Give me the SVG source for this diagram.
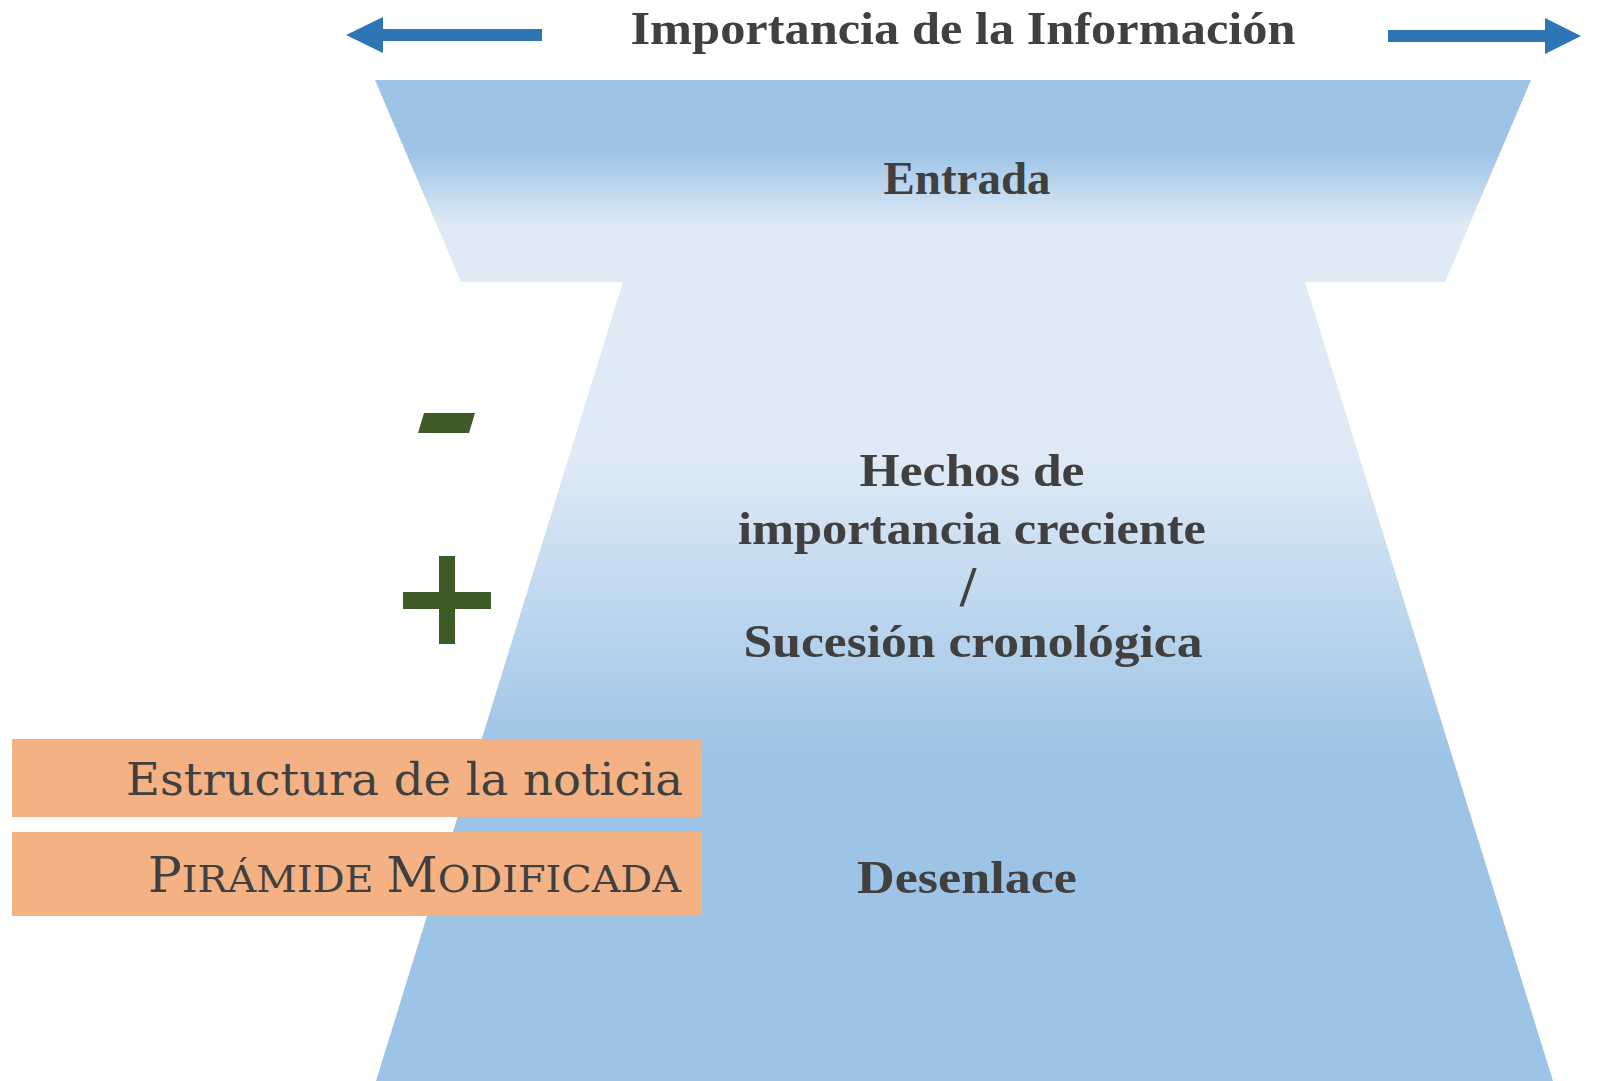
<svg xmlns="http://www.w3.org/2000/svg" width="1598" height="1081" viewBox="0 0 1598 1081">
<defs>
<linearGradient id="funnelGrad" gradientUnits="userSpaceOnUse" x1="0" y1="80" x2="0" y2="1081">
<stop offset="0" stop-color="#9DC3E6"/>
<stop offset="0.07" stop-color="#9DC3E6"/>
<stop offset="0.145" stop-color="#DEEAF6"/>
<stop offset="0.38" stop-color="#DEEAF6"/>
<stop offset="0.68" stop-color="#9DC3E6"/>
<stop offset="1" stop-color="#9DC3E6"/>
</linearGradient>
<style>
.bold{font-family:"Liberation Serif","Times New Roman",serif;font-weight:bold;fill:#404040;text-anchor:middle}
.box{fill:#F4B183}
.boxtxt{font-family:"DejaVu Serif","Liberation Serif",serif;fill:#404040;text-anchor:end}
.arrow{fill:#2E75B6}
.sign{fill:#3D5A27}
</style>
</defs>
<rect width="1598" height="1081" fill="#ffffff"/>
<g id="funnel">
<polygon points="375,80 1531,80 1445,282 1305,282 1553,1081 376,1081 623,282 461,282" fill="url(#funnelGrad)"/>
</g>
<g id="connectors">
<polygon class="arrow" points="346,35 383,17 383,29 542,29 542,41 383,41 383,53"/>
<polygon class="arrow" points="1581,36 1545,18 1545,30 1388,30 1388,42 1545,42 1545,54"/>
</g>
<g id="title">
<text class="bold" x="963" y="44" font-size="47" textLength="665" lengthAdjust="spacingAndGlyphs">Importancia de la Información</text>
</g>
<g id="entrada">
<text class="bold" x="967" y="194" font-size="46" textLength="167" lengthAdjust="spacingAndGlyphs">Entrada</text>
</g>
<g id="hechos">
<text class="bold" x="972" y="486" font-size="46" textLength="225" lengthAdjust="spacingAndGlyphs">Hechos de</text>
<text class="bold" x="972" y="544" font-size="46" textLength="468" lengthAdjust="spacingAndGlyphs">importancia creciente</text>
<text class="bold" x="968" y="606" font-size="58">/</text>
<text class="bold" x="973" y="657" font-size="46" textLength="459" lengthAdjust="spacingAndGlyphs">Sucesión cronológica</text>
</g>
<g id="desenlace">
<text class="bold" x="967" y="893" font-size="46" textLength="220" lengthAdjust="spacingAndGlyphs">Desenlace</text>
</g>
<g id="minus">
<polygon class="sign" points="418,433 424,413 475,413 469,433"/>
</g>
<g id="plus">
<rect class="sign" x="439" y="556" width="16" height="88"/>
<rect class="sign" x="403" y="592" width="88" height="17"/>
</g>
<g id="estructura">
<rect class="box" x="12" y="739" width="690" height="78"/>
<text class="boxtxt" x="683" y="795" font-size="44" textLength="557" lengthAdjust="spacingAndGlyphs">Estructura de la noticia</text>
</g>
<g id="piramide">
<rect class="box" x="12" y="832" width="690" height="84"/>
<text class="boxtxt" x="681" y="892" textLength="533" lengthAdjust="spacingAndGlyphs"><tspan font-size="48">P</tspan><tspan font-size="38">IRÁMIDE </tspan><tspan font-size="48">M</tspan><tspan font-size="38">ODIFICADA</tspan></text>
</g>
</svg>
